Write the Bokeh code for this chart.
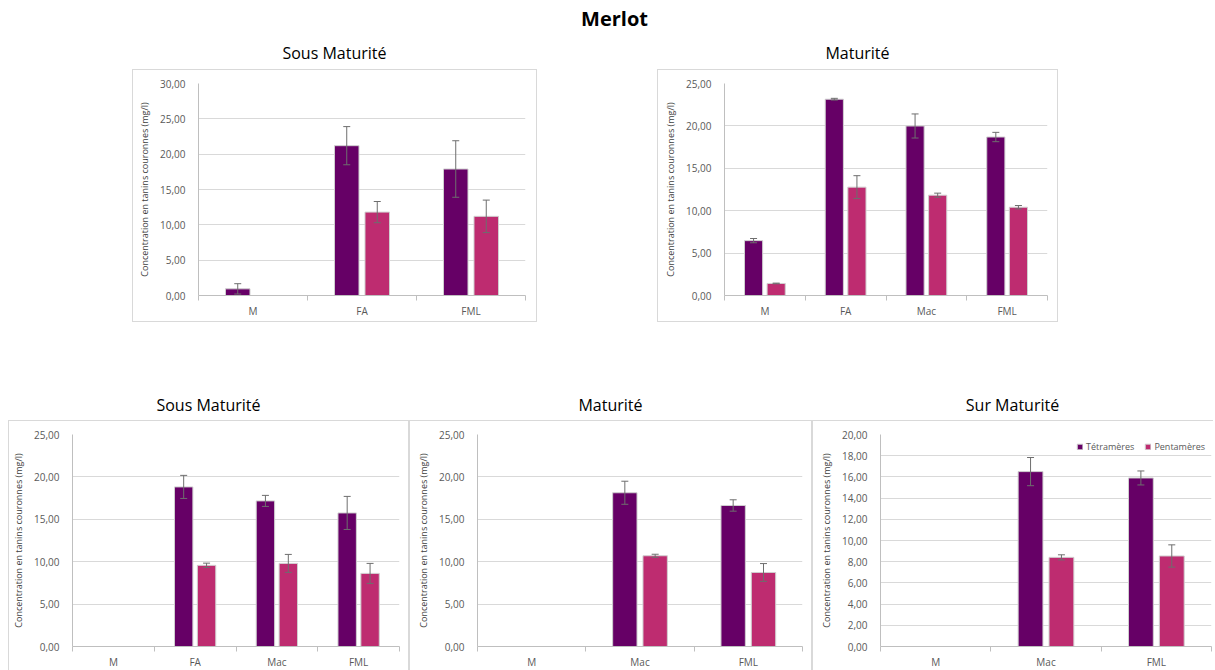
import math
from bokeh.plotting import figure
from bokeh.models import (Range1d, FixedTicker, SingleIntervalTicker, CustomJSTickFormatter,
                          ColumnDataSource, Whisker, Div, Spacer, Legend, LegendItem, TeeHead)
from bokeh.layouts import row, column
from bokeh.embed import file_html
from bokeh.resources import INLINE

NAN = float("nan")

# ---------------- data ----------------
main_title = "Merlot"
series_names = ["Tétramères", "Pentamères"]
y_label = "Concentration en tanins couronnes (mg/l)"

# top-left : Sous Maturité
tl_title = "Sous Maturité"
tl_cats = ["M", "FA", "FML"]
tl_tet = [0.94, 21.2, 17.9]
tl_tet_err = [0.73, 2.7, 4.0]
tl_pen = [NAN, 11.8, 11.2]
tl_pen_err = [NAN, 1.5, 2.3]

# top-right : Maturité
tr_title = "Maturité"
tr_cats = ["M", "FA", "Mac", "FML"]
tr_tet = [6.47, 23.15, 19.99, 18.69]
tr_tet_err = [0.25, 0.1, 1.42, 0.55]
tr_pen = [1.42, 12.78, 11.83, 10.41]
tr_pen_err = [0.04, 1.35, 0.24, 0.2]

# bottom-left : Sous Maturité
bl_title = "Sous Maturité"
bl_cats = ["M", "FA", "Mac", "FML"]
bl_tet = [NAN, 18.82, 17.17, 15.75]
bl_tet_err = [NAN, 1.36, 0.65, 1.95]
bl_pen = [NAN, 9.57, 9.8, 8.62]
bl_pen_err = [NAN, 0.26, 1.06, 1.18]

# bottom-middle : Maturité
bm_title = "Maturité"
bm_cats = ["M", "Mac", "FML"]
bm_tet = [NAN, 18.13, 16.63]
bm_tet_err = [NAN, 1.36, 0.67]
bm_pen = [NAN, 10.7, 8.73]
bm_pen_err = [NAN, 0.18, 1.05]

# bottom-right : Sur Maturité
br_title = "Sur Maturité"
br_cats = ["M", "Mac", "FML"]
br_tet = [NAN, 16.5, 15.9]
br_tet_err = [NAN, 1.33, 0.66]
br_pen = [NAN, 8.41, 8.54]
br_pen_err = [NAN, 0.24, 1.05]

# ---------------- style ----------------
TET_COLOR = "#660066"
PEN_COLOR = "#BE2C70"
FONT = "Open Sans"
TXT = "#595959"
GRID = "#d9d9d9"
AXIS = "#bfbfbf"
BOX = "#d9d9d9"
DODGE = 0.14
BAR_W = 0.225


def make_panel(title, cats, tet, tet_err, pen, pen_err, ymax, ystep,
               width, height, bl, br, bt, bb, legend=False, box_style=None):
    n = len(cats)
    p = figure(width=width, height=height, output_backend="svg", toolbar_location=None,
               x_range=Range1d(0, n), y_range=Range1d(0, ymax),
               min_border_left=bl, min_border_right=br, min_border_top=bt, min_border_bottom=bb,
               background_fill_color="white", border_fill_color="white",
               outline_line_color=None, tools="")
    p.styles = box_style or {"border": f"1px solid {BOX}", "box-sizing": "border-box"}

    renderers = []
    for vals, errs, off, col in [(tet, tet_err, -DODGE, TET_COLOR),
                                 (pen, pen_err, DODGE, PEN_COLOR)]:
        xs, tops, up, lo = [], [], [], []
        for i, (v, e) in enumerate(zip(vals, errs)):
            if v is None or (isinstance(v, float) and math.isnan(v)):
                continue
            xs.append(i + 0.5 + off)
            tops.append(v)
            up.append(v + e)
            lo.append(v - e)
        src = ColumnDataSource(dict(x=xs, top=tops, upper=up, lower=lo))
        r = p.vbar(x="x", top="top", width=BAR_W, bottom=0, source=src,
                   fill_color=col, line_color="#d0d0d0", line_width=1)
        renderers.append(r)
        w = Whisker(base="x", upper="upper", lower="lower", source=src,
                    line_color="#6e6e6e", line_width=1, level="overlay",
                    upper_head=TeeHead(size=7, line_color="#6e6e6e", line_width=1),
                    lower_head=TeeHead(size=7, line_color="#6e6e6e", line_width=1))
        p.add_layout(w)

    # x axis : labels at centers, ticks at category boundaries
    p.xaxis.ticker = FixedTicker(ticks=[i + 0.5 for i in range(n)],
                                 minor_ticks=[i for i in range(n + 1)])
    p.xaxis.major_label_overrides = {i + 0.5: c for i, c in enumerate(cats)}
    p.xaxis.major_tick_line_color = None
    p.xaxis.major_tick_out = 0
    p.xaxis.minor_tick_line_color = AXIS
    p.xaxis.minor_tick_out = 5
    p.xaxis.minor_tick_in = 0
    p.xaxis.axis_line_color = AXIS
    p.xaxis.major_label_text_font = FONT
    p.xaxis.major_label_text_font_size = "10px"
    p.xaxis.major_label_text_color = TXT
    p.xaxis.major_label_standoff = 3
    p.xgrid.grid_line_color = None

    p.yaxis.ticker = SingleIntervalTicker(interval=ystep)
    p.yaxis.formatter = CustomJSTickFormatter(code="return tick.toFixed(2).replace('.', ',');")
    p.yaxis.major_tick_line_color = None
    p.yaxis.minor_tick_line_color = None
    p.yaxis.axis_line_color = AXIS
    p.yaxis.major_label_text_font = FONT
    p.yaxis.major_label_text_font_size = "10px"
    p.yaxis.major_label_text_color = TXT
    p.yaxis.major_label_standoff = 7
    p.yaxis.axis_label = y_label
    p.yaxis.axis_label_text_font = FONT
    p.yaxis.axis_label_text_font_size = "9px"
    p.yaxis.axis_label_text_font_style = "normal"
    p.yaxis.axis_label_text_color = "#404040"
    p.yaxis.axis_label_standoff = 6
    p.ygrid.grid_line_color = GRID
    p.ygrid.ticker = SingleIntervalTicker(interval=ystep)

    if legend:
        leg = Legend(items=[LegendItem(label=series_names[0], renderers=[renderers[0]]),
                            LegendItem(label=series_names[1], renderers=[renderers[1]])],
                     orientation="horizontal", location="top_right",
                     label_text_font=FONT, label_text_font_size="9px", label_text_color=TXT,
                     glyph_width=7, glyph_height=7, label_standoff=3, spacing=10,
                     padding=2, margin=6, border_line_color=None, background_fill_alpha=0)
        p.add_layout(leg)

    tdiv = Div(text=title, width=width,
               styles={"font-family": FONT, "font-size": "16px", "color": "#000",
                       "text-align": "center", "margin": "0", "width": f"{width}px"})
    return p, tdiv


def title_block(div, h):
    div.height = h
    div.styles = dict(div.styles, **{"line-height": f"{h}px", "height": f"{h}px"})
    return div


tl, tl_t = make_panel(tl_title, tl_cats, tl_tet, tl_tet_err, tl_pen, tl_pen_err, 30, 5,
                      405, 253, 65, 13, 13, 28)
tr, tr_t = make_panel(tr_title, tr_cats, tr_tet, tr_tet_err, tr_pen, tr_pen_err, 25, 5,
                      401, 253, 66, 12, 13, 28)
bottom_style = {"border-left": f"1px solid {BOX}", "border-top": f"1px solid {BOX}",
                "border-right": f"1px solid {BOX}", "box-sizing": "border-box"}
bl_, bl_t = make_panel(bl_title, bl_cats, bl_tet, bl_tet_err, bl_pen, bl_pen_err, 25, 5,
                       401, 250, 63, 11, 13, 24, box_style=dict(bottom_style))
bm, bm_t = make_panel(bm_title, bm_cats, bm_tet, bm_tet_err, bm_pen, bm_pen_err, 25, 5,
                      403, 250, 67, 11, 13, 24, box_style=dict(bottom_style))
br_, br_t = make_panel(br_title, br_cats, br_tet, br_tet_err, br_pen, br_pen_err, 20, 2,
                       401, 250, 67, 3, 13, 24, legend=True,
                       box_style={"border-left": f"1px solid {BOX}", "border-top": f"1px solid {BOX}",
                                  "box-sizing": "border-box"})

for d in (tl_t, tr_t):
    title_block(d, 31)
for d in (bl_t, bm_t, br_t):
    title_block(d, 30)

head = Div(text=main_title, width=1199, height=30,
           styles={"font-family": FONT, "font-size": "20px", "font-weight": "bold",
                   "color": "#000", "text-align": "center", "line-height": "22px",
                   "margin": "0", "width": "1199px", "height": "30px", "padding-left": "14px"})

top_row = row(Spacer(width=124, height=284), column(tl_t, tl, spacing=0),
              Spacer(width=120, height=284), column(tr_t, tr, spacing=0), spacing=0)
bottom_row = row(column(bl_t, bl_, spacing=0), column(bm_t, bm, spacing=0),
                 column(br_t, br_, spacing=0), spacing=0)
inner = column(head, top_row, Spacer(width=10, height=68), bottom_row, spacing=0)
layout = column(Spacer(width=10, height=8), row(Spacer(width=8, height=10), inner, spacing=0),
                spacing=0)

open("out.html", "w").write(file_html(layout, INLINE))
